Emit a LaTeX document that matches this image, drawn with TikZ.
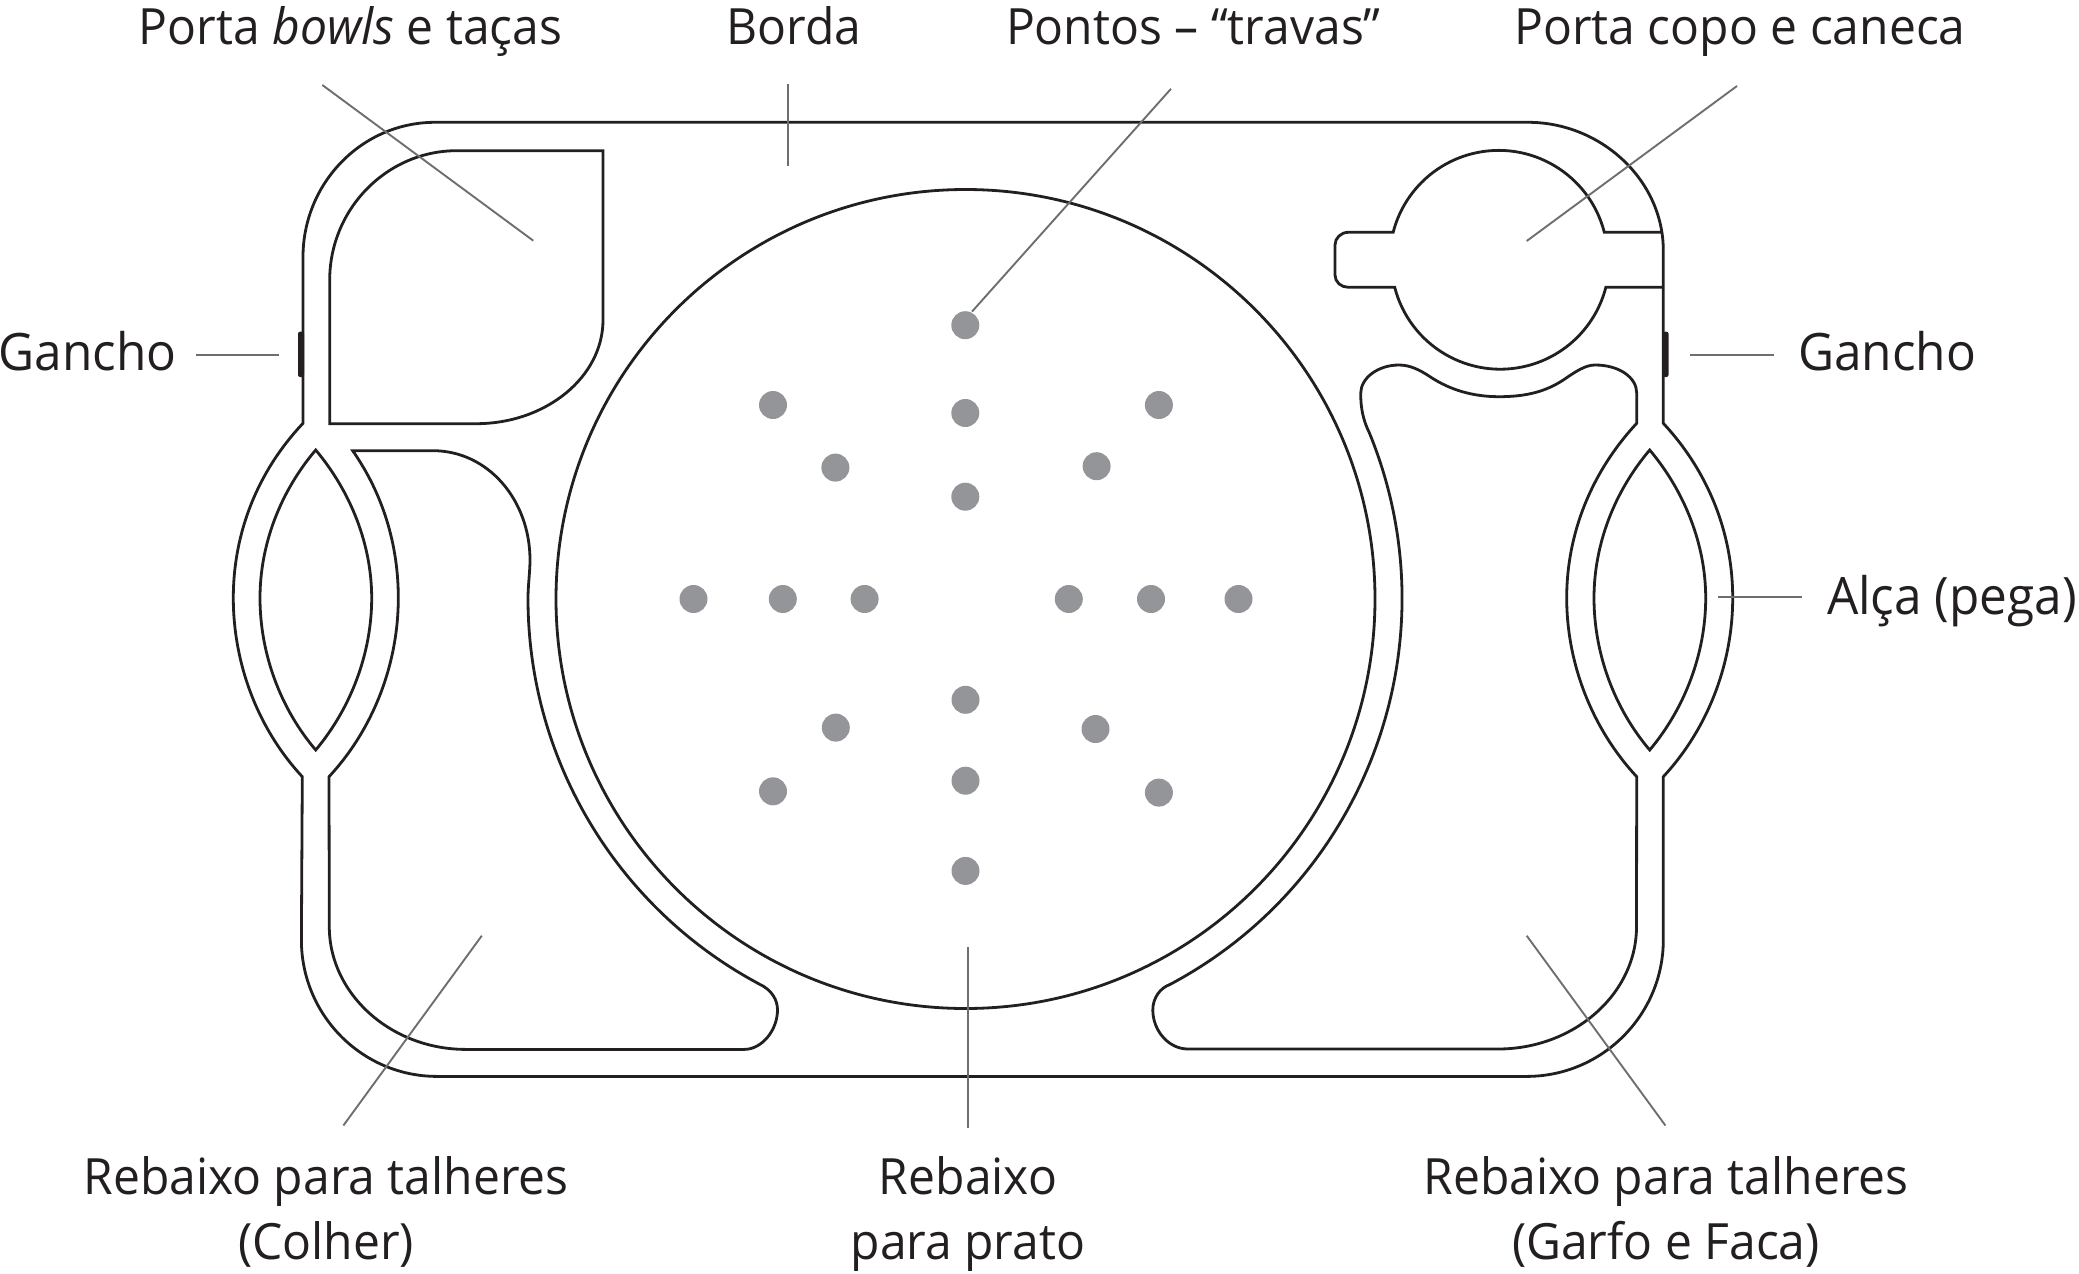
\documentclass[tikz,border=0pt]{standalone}
\usepackage{fontspec}
\setmainfont[FakeStretch=0.96]{Open Sans}
\definecolor{ink}{HTML}{231F20}
\definecolor{leadergray}{HTML}{6D6E71}
\definecolor{dotgray}{HTML}{939598}
\tikzset{
  outline/.style={draw=ink,line width=1.4pt,line join=miter},
  leaderline/.style={draw=leadergray,line width=0.95pt},
  lbl/.style={font=\fontsize{25}{32.5}\selectfont,text=ink,inner sep=0pt,anchor=base,align=center},
  lblside/.style={lbl,font=\fontsize{25.8}{32.5}\selectfont},
  dotmark/.style={circle,fill=dotgray,minimum size=14pt,inner sep=0pt},
}
\begin{document}
\begin{tikzpicture}[x=0.5pt,y=-0.5pt]
\useasboundingbox (0,0) rectangle (2079,1274);
% outer contour
\draw[outline] (435,122.3) -- (1528,122.3) .. controls (1601,122.3) and (1663,180) .. (1663.3,250)
  -- (1663.3,423.3) .. controls (1707.9,471.3) and (1732.7,532.5) .. (1732.7,598)
  .. controls (1732.7,663.5) and (1707.9,728.7) .. (1663.3,776.7)
  -- (1663.3,940) .. controls (1663.3,1015) and (1602,1076.4) .. (1526.7,1076.4)
  -- (437,1076.4) .. controls (362,1076.4) and (301.4,1015) .. (301.4,940)
  -- (302.3,776.7) .. controls (257.7,728.7) and (233.3,663.5) .. (233.3,598)
  .. controls (233.3,532.5) and (257.7,471.3) .. (303,423.3)
  -- (303,257) .. controls (303,183) and (362,122.3) .. (435,122.3) -- cycle;
% hooks
\fill[ink,rounded corners=1pt] (298,331.7) rectangle (304,377);
\fill[ink,rounded corners=1pt] (1663,331.7) rectangle (1668.5,377);
% bowl holder
\draw[outline] (603,150.7) -- (603,320) .. controls (603,377) and (546,423.7) .. (476,423.7)
  -- (329.7,423.7) -- (329.7,280) .. controls (329.7,209) and (387,150.7) .. (456.7,150.7) -- cycle;
% left lens
\draw[outline] (315.7,450) .. controls (280,492) and (260,545) .. (260,598)
  .. controls (260,653) and (280,708) .. (315.7,750)
  .. controls (351,708) and (371.7,653) .. (371.7,598)
  .. controls (371.7,545) and (351,492) .. (315.7,450) -- cycle;
% right lens
\draw[outline] (1649.7,450) .. controls (1614,492) and (1594,545) .. (1594,598)
  .. controls (1594,653) and (1614,708) .. (1649.7,750)
  .. controls (1685,708) and (1705.7,653) .. (1705.7,598)
  .. controls (1705.7,545) and (1685,492) .. (1649.7,450) -- cycle;
% spoon recess
\draw[outline] (352.7,450.7) -- (433,450.7) .. controls (488,450.7) and (530,500) .. (530,560)
  .. controls (530,572) and (528,585) .. (528,598.5)
  arc[start angle=180,end angle=118.1,radius=437]
  .. controls (772,990) and (777.5,1000) .. (777.5,1010)
  .. controls (777.5,1030) and (762,1049.4) .. (744.3,1049.4)
  -- (465.7,1049.4) .. controls (391,1049.4) and (329.3,994) .. (329.3,926.7)
  -- (329,776.7) .. controls (373.6,728.7) and (398.3,663.5) .. (398.3,598)
  .. controls (398.3,544.9) and (383.1,494.3) .. (352.7,450.7) -- cycle;
% fork and knife recess
\draw[outline] (1636.7,423.3) -- (1636.7,393) .. controls (1636.7,378) and (1620,365) .. (1595,365)
  .. controls (1585,365) and (1575,372) .. (1563.3,380)
  .. controls (1545,392) and (1525,396.7) .. (1499,396.7)
  .. controls (1473,396.7) and (1450,390) .. (1430,376.7)
  .. controls (1420,370) and (1410,365) .. (1399,365)
  .. controls (1378,365) and (1360.7,378) .. (1360.7,393.3)
  .. controls (1360.7,408) and (1363,420) .. (1369.3,432.7)
  arc[start angle=-22.3,end angle=62,radius=437]
  .. controls (1160,988) and (1152.8,998) .. (1152.8,1010)
  .. controls (1152.8,1030) and (1168,1049) .. (1188,1049)
  -- (1498,1049) .. controls (1574,1049) and (1636.5,994) .. (1636.5,926.7)
  -- (1636.7,776.7) .. controls (1592.1,728.7) and (1566.7,663.5) .. (1566.7,598)
  .. controls (1566.7,532.5) and (1592.1,471.3) .. (1636.7,423.3) -- cycle;
% cup holder
\draw[outline] (1662,232.3) -- (1604.3,232.3) arc[start angle=345.6,end angle=194.4,radius=109]
  -- (1348.3,232.3) .. controls (1341,232.3) and (1335,238) .. (1335,245)
  -- (1335,275) .. controls (1335,282) and (1341,287.3) .. (1348.3,287.3)
  -- (1394.7,287.3) arc[start angle=165.6,end angle=14.4,radius=109] -- (1663.3,287.3);
% plate
\draw[outline] (965.5,599) circle[radius=409.5];
% dots
\foreach \i/\x/\y in {1/965.3/325.2,2/773/405,3/1158.9/405,4/965.3/413,5/835.4/467.6,6/1096.6/466.2,7/965.3/496.7,8/693.5/599,9/782.8/599,10/864.6/599,11/1068.8/599,12/1151/599,13/1238.5/599,14/965.5/699.8,15/835.8/727.6,16/1095.5/729,17/965.5/780.7,18/773/791.3,19/1158.9/792.6,20/965.5/870.9}
  \node[dotmark] (dot\i) at (\x,\y) {};
% labels
\node[lbl] (lbowl) at (350.7,45) {Porta \textit{bowls} e taças};
\node[lbl] (lborda) at (794,45) {Borda};
\node[lbl] (lpontos) at (1193.4,45) {Pontos – “travas”};
\node[lbl] (lcopo) at (1740,45) {Porta copo e caneca};
\node[lblside] (lgl) at (87.5,370) {Gancho};
\node[lblside] (lgr) at (1887,370) {Gancho};
\node[lblside] (lalca) at (1952,614) {Alça (pega)};
\node[lbl] (lcolher) at (326,1259.5) {Rebaixo para talheres\\(Colher)};
\node[lbl] (lprato) at (968,1259.5) {Rebaixo\\para prato};
\node[lbl] (lgarfo) at (1666,1259.5) {Rebaixo para talheres\\(Garfo e Faca)};
% leader ends
\coordinate (a1) at (322.3,85); \coordinate (a2) at (533.3,240.7);
\coordinate (b1) at (787.6,83.5); \coordinate (b2) at (787.6,165.8);
\coordinate (c1) at (1171,88.8); \coordinate (c2) at (972,311.6);
\coordinate (d1) at (1737,86); \coordinate (d2) at (1526.7,241);
\coordinate (e1) at (196,355); \coordinate (e2) at (279,355);
\coordinate (f1) at (1690,355); \coordinate (f2) at (1774,355);
\coordinate (g1) at (1718.3,597); \coordinate (g2) at (1801.7,597);
\coordinate (h1) at (343.4,1125.5); \coordinate (h2) at (481.8,935.7);
\coordinate (i1) at (968,947); \coordinate (i2) at (968,1128);
\coordinate (j1) at (1526.7,935.7); \coordinate (j2) at (1665.4,1125.5);
\foreach \p/\q in {a1/a2,b1/b2,c1/c2,d1/d2,e1/e2,f1/f2,g1/g2,h1/h2,i1/i2,j1/j2}
  \draw[leaderline] (\p) -- (\q);
\end{tikzpicture}
\end{document}
